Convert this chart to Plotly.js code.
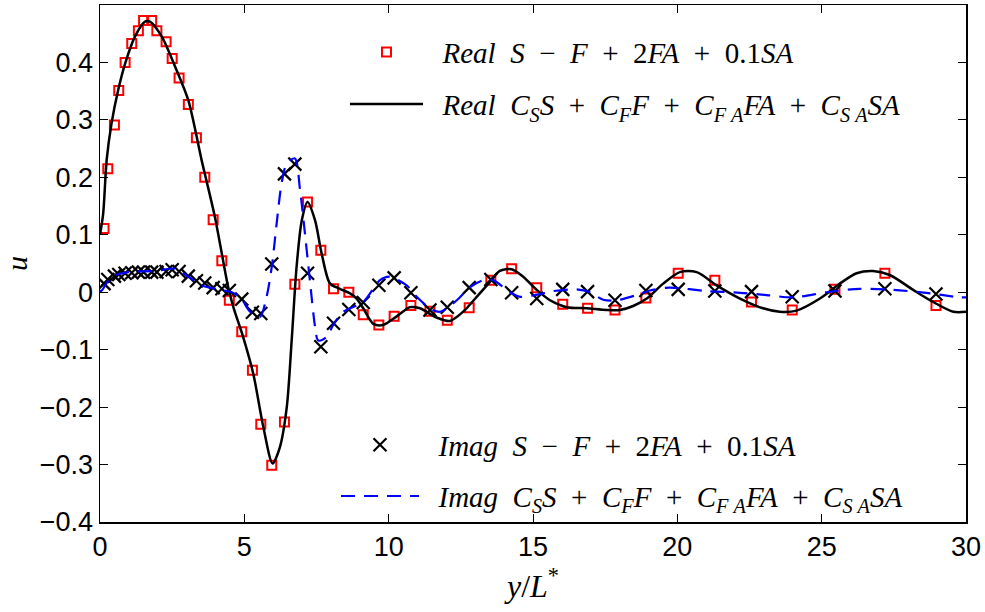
<!DOCTYPE html>
<html>
<head>
<meta charset="utf-8">
<script src="https://cdn.plot.ly/plotly-3.0.1.min.js"></script>
<style>html,body{margin:0;padding:0;background:#fff;}#chart{width:985px;height:612px;}</style>
</head>
<body>
<div id="chart"></div>
<script>
// Sample positions (y/L*) shared by the two marker series
const gridX = [0.14,0.27,0.50,0.65,0.87,1.10,1.33,1.51,1.79,1.97,2.29,2.50,2.74,3.06,3.34,3.63,3.92,4.22,4.48,4.91,5.28,5.57,5.95,6.39,6.75,7.19,7.65,8.09,8.62,9.12,9.66,10.19,10.77,11.43,12.03,12.79,13.54,14.26,15.13,16.03,16.89,17.84,18.91,20.03,21.30,22.57,23.98,25.46,27.19,28.96];
// Real part, S - F + 2FA + 0.1SA (red squares)
const realMarkY = [0.111,0.215,0.291,0.351,0.400,0.433,0.455,0.473,0.473,0.455,0.436,0.407,0.373,0.327,0.269,0.200,0.126,0.055,-0.014,-0.069,-0.136,-0.230,-0.301,-0.226,0.014,0.157,0.073,0.006,0.000,-0.039,-0.057,-0.042,-0.023,-0.033,-0.049,-0.027,0.021,0.041,0.008,-0.021,-0.028,-0.031,-0.010,0.033,0.021,-0.017,-0.031,0.005,0.033,-0.023];
// Imag part, S - F + 2FA + 0.1SA (black crosses)
const imagMarkY = [0.015,0.022,0.028,0.031,0.033,0.034,0.035,0.035,0.035,0.035,0.036,0.039,0.036,0.028,0.020,0.016,0.008,0.006,0.003,-0.012,-0.035,-0.037,0.049,0.206,0.223,0.033,-0.095,-0.054,-0.030,-0.018,0.012,0.025,-0.001,-0.031,-0.026,0.008,0.022,-0.001,-0.011,0.005,0.001,-0.014,0.003,0.005,0.002,0.001,-0.008,0.002,0.006,-0.003];
// Real part, C_S S + C_F F + C_FA FA + C_SA SA (black solid line)
const realLineX = [0,0.11,0.23,0.40,0.63,0.87,1.21,1.56,1.73,2.14,2.60,3.06,3.52,3.98,4.44,4.62,4.96,5.31,5.66,5.98,6.23,6.47,6.64,6.81,6.99,7.19,7.45,7.68,7.97,8.31,8.66,8.89,9.12,9.47,9.81,10.28,10.74,11.08,11.66,12.12,12.58,13.05,13.51,13.85,14.26,14.66,15.13,15.59,16.16,16.86,17.55,18.01,18.47,18.94,19.51,20.09,20.67,21.36,22.17,22.97,23.55,24.13,24.94,25.63,26.21,26.78,27.36,28.17,28.86,29.56,30.00];
const realLineY = [0.100,0.137,0.230,0.294,0.352,0.398,0.445,0.471,0.471,0.445,0.393,0.334,0.230,0.131,0.009,-0.026,-0.078,-0.142,-0.235,-0.298,-0.270,-0.200,-0.084,0.044,0.125,0.157,0.125,0.067,0.015,0.006,-0.002,-0.011,-0.028,-0.055,-0.057,-0.042,-0.026,-0.028,-0.044,-0.050,-0.034,-0.008,0.018,0.037,0.040,0.027,0.004,-0.014,-0.026,-0.028,-0.031,-0.031,-0.024,-0.011,0.015,0.035,0.035,0.012,-0.011,-0.028,-0.034,-0.032,-0.011,0.015,0.033,0.037,0.030,0.004,-0.017,-0.034,-0.034];
// Imag part, C_S S + C_F F + C_FA FA + C_SA SA (blue dashed line)
const imagLineX = [0,0.06,0.40,0.98,1.91,2.60,3.06,3.52,4.21,4.56,4.85,5.20,5.54,5.77,5.95,6.12,6.29,6.47,6.75,6.93,7.10,7.27,7.45,7.56,7.85,8.08,8.43,9.12,9.70,10.04,10.62,10.97,11.43,11.78,12.36,12.82,13.28,13.62,14.20,14.55,15.36,15.70,16.51,16.97,17.43,17.90,18.59,19.05,19.74,21.02,22.17,23.09,24.01,25.17,26.32,27.48,28.63,29.79,30.00];
const imagLineY = [0.002,0.003,0.027,0.035,0.037,0.041,0.027,0.012,0.004,0.000,-0.008,-0.034,-0.043,-0.008,0.044,0.120,0.189,0.224,0.233,0.178,0.102,0.021,-0.060,-0.084,-0.078,-0.057,-0.034,-0.017,0.021,0.027,0.012,-0.008,-0.028,-0.034,-0.014,0.009,0.021,0.021,0.000,-0.008,-0.002,0.002,0.005,0.000,-0.013,-0.014,-0.005,0.003,0.008,0.002,-0.001,-0.005,-0.009,0.000,0.006,0.004,-0.001,-0.009,-0.009];

const xTicks = [0,5,10,15,20,25,30];
const yTicks = [-0.4,-0.3,-0.2,-0.1,0,0.1,0.2,0.3,0.4];

const NB = '\u00a0';
const OP = (s) => NB + NB + s + NB + NB;
const names = [
  NB + NB + '<i>Real' + NB + NB + 'S</i>' + OP('−') + '<i>F</i>' + OP('+') + '2<i>FA</i>' + OP('+') + '0.1<i>SA</i>',
  NB + NB + '<i>Real' + NB + NB + 'C<sub>S</sub>S</i>' + OP('+') + '<i>C<sub>F</sub>F</i>' + OP('+') + '<i>C<sub>F' + NB + 'A</sub>FA</i>' + OP('+') + '<i>C<sub>S' + NB + 'A</sub>SA</i>',
  NB + NB + '<i>Imag' + NB + NB + 'S</i>' + OP('−') + '<i>F</i>' + OP('+') + '2<i>FA</i>' + OP('+') + '0.1<i>SA</i>',
  NB + NB + '<i>Imag' + NB + NB + 'C<sub>S</sub>S</i>' + OP('+') + '<i>C<sub>F</sub>F</i>' + OP('+') + '<i>C<sub>F' + NB + 'A</sub>FA</i>' + OP('+') + '<i>C<sub>S' + NB + 'A</sub>SA</i>'
];

const traces = [
  {x: gridX, y: realMarkY, mode: 'markers', name: names[0], legend: 'legend',
   marker: {symbol: 'square-open', size: 9, color: '#ff0000', line: {width: 2, color: '#ff0000'}}},
  {x: realLineX, y: realLineY, mode: 'lines', name: names[1], legend: 'legend2',
   line: {color: '#000000', width: 2.5, shape: 'spline', smoothing: 0.8}},
  {x: gridX, y: imagMarkY, mode: 'markers', name: names[2], legend: 'legend3',
   marker: {symbol: 'x-thin-open', size: 13, color: '#000000', line: {width: 2.2, color: '#000000'}}},
  {x: imagLineX, y: imagLineY, mode: 'lines', name: names[3], legend: 'legend4',
   line: {color: '#0000ff', width: 2.2, dash: '14px,9px', shape: 'spline', smoothing: 0.8}}
];

const legFont = {family: 'Liberation Serif, DejaVu Serif, serif', size: 29, color: '#000'};
function leg(x, y, w) {
  return {x: x, y: y, xanchor: 'left', yanchor: 'middle', bgcolor: 'rgba(0,0,0,0)',
          borderwidth: 0, font: legFont, itemwidth: w, itemclick: false, itemdoubleclick: false};
}

const axisCommon = {
  showgrid: false, zeroline: false, showline: true, linecolor: '#000', linewidth: 1.5,
  mirror: 'ticks', ticks: 'inside', ticklen: 8, tickwidth: 1, tickcolor: '#000',
  tickfont: {family: 'Liberation Sans, Arial, sans-serif', size: 27, color: '#000'}
};

const layout = {
  width: 985, height: 612,
  margin: {l: 100, r: 19, t: 5, b: 90},
  paper_bgcolor: '#fff', plot_bgcolor: '#fff',
  showlegend: true,
  xaxis: Object.assign({}, axisCommon, {
    range: [0, 30], tickvals: xTicks,
    title: {text: '<i>y</i>/<i>L</i><sup>*</sup>', standoff: 13,
            font: {family: 'Liberation Serif, DejaVu Serif, serif', size: 32, color: '#000'}}
  }),
  yaxis: Object.assign({}, axisCommon, {
    range: [-0.4, 0.5], tickvals: yTicks,
    title: {text: '<i>u</i>', standoff: 30,
            font: {family: 'Liberation Serif, DejaVu Serif, serif', size: 30, color: '#000'}}
  }),
  legend: leg((345 - 100) / 866, 0.909, 73),
  legend2: leg((345 - 100) / 866, 0.808, 73),
  legend3: leg((336 - 100) / 866, 0.149, 78),
  legend4: leg((336 - 100) / 866, 0.050, 78)
};

Plotly.newPlot('chart', traces, layout, {staticPlot: true, displayModeBar: false});
</script>
</body>
</html>
